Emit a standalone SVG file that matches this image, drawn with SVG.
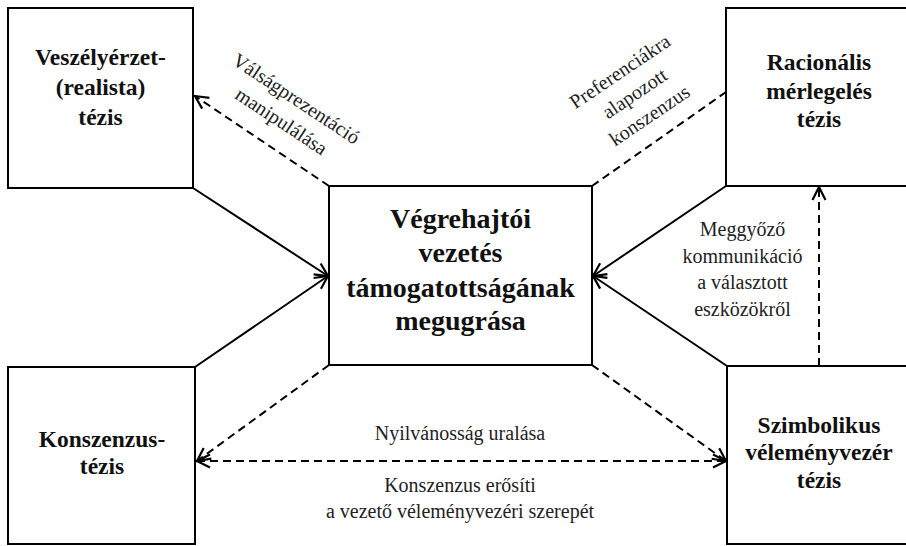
<svg xmlns="http://www.w3.org/2000/svg" width="906" height="546" viewBox="0 0 906 546">
<style>
.box{fill:#fff;stroke:#000;stroke-width:2}
.n{font-family:"Liberation Serif",serif;font-weight:bold;font-size:23.5px;text-anchor:middle;fill:#111}
.c{font-family:"Liberation Serif",serif;font-weight:bold;font-size:28px;text-anchor:middle;fill:#111}
.l{font-family:"Liberation Serif",serif;font-size:20px;text-anchor:middle;fill:#222}
.s{fill:none;stroke:#000;stroke-width:2}
.d{fill:none;stroke:#000;stroke-width:2;stroke-dasharray:8 5}
</style>
<defs>
<marker id="ah" markerUnits="userSpaceOnUse" markerWidth="20" markerHeight="20" viewBox="-16 -10 20 20" refX="0" refY="0" orient="auto-start-reverse">
<path d="M-13,-6.5 L0,0 L-13,6.5" fill="none" stroke="#000" stroke-width="2.2" stroke-dasharray="none"/>
</marker>
</defs>
<rect width="906" height="546" fill="#fff"/>
<g id="connectors">
<line class="s" x1="193" y1="188" x2="328" y2="276" marker-end="url(#ah)"/>
<line class="s" x1="195" y1="367" x2="328" y2="276" marker-end="url(#ah)"/>
<line class="s" x1="726" y1="186" x2="593" y2="276" marker-end="url(#ah)"/>
<line class="s" x1="727" y1="366" x2="593" y2="276" marker-end="url(#ah)"/>
<line class="d" x1="329" y1="186" x2="195" y2="96" marker-end="url(#ah)"/>
<line class="d" x1="592" y1="186" x2="726" y2="92"/>
<line class="d" x1="329" y1="365" x2="197" y2="461" marker-end="url(#ah)"/>
<line class="d" x1="592" y1="365" x2="726" y2="461" marker-end="url(#ah)"/>
<line class="d" x1="197" y1="461" x2="726" y2="461" marker-start="url(#ah)" marker-end="url(#ah)"/>
<line class="d" x1="819" y1="366" x2="819" y2="187" marker-end="url(#ah)"/>
<g transform="translate(288.5,110.5) rotate(33.5)">
<text class="l" x="0" y="-7.5">Válságprezentáció</text>
<text class="l" x="0" y="19.5">manipulálása</text>
</g>
<g transform="translate(635,94) rotate(-34)">
<text class="l" x="0" y="-20.5">Preferenciákra</text>
<text class="l" x="0" y="6">alapozott</text>
<text class="l" x="0" y="32.5">konszenzus</text>
</g>
<text class="l" x="742.5" y="236">Meggyőző</text>
<text class="l" x="742.5" y="263">kommunikáció</text>
<text class="l" x="742.5" y="289">a választott</text>
<text class="l" x="742.5" y="316">eszközökről</text>
<text class="l" x="460" y="440">Nyilvánosság uralása</text>
<text class="l" x="460" y="492">Konszenzus erősíti</text>
<text class="l" x="460" y="518">a vezető véleményvezéri szerepét</text>
</g>
<g id="veszely">
<rect class="box" x="8" y="8" width="185" height="180"/>
<text class="n" x="100.5" y="65">Veszélyérzet-</text>
<text class="n" x="100.5" y="95">(realista)</text>
<text class="n" x="100.5" y="125">tézis</text>
</g>
<g id="racionalis">
<rect class="box" x="726" y="8" width="190" height="178"/>
<text class="n" x="819" y="70">Racionális</text>
<text class="n" x="819" y="99">mérlegelés</text>
<text class="n" x="819" y="127">tézis</text>
</g>
<g id="kozep">
<rect class="box" x="329" y="186" width="263" height="179"/>
<text class="c" x="460.5" y="228">Végrehajtói</text>
<text class="c" x="460.5" y="262">vezetés</text>
<text class="c" x="460.5" y="297">támogatottságának</text>
<text class="c" x="460.5" y="330">megugrása</text>
</g>
<g id="konszenzus">
<rect class="box" x="8" y="367" width="187" height="177"/>
<text class="n" x="102" y="447">Konszenzus-</text>
<text class="n" x="102" y="474">tézis</text>
</g>
<g id="szimbolikus">
<rect class="box" x="727" y="366" width="190" height="178"/>
<text class="n" x="819" y="433">Szimbolikus</text>
<text class="n" x="819" y="460">véleményvezér</text>
<text class="n" x="819" y="488">tézis</text>
</g>
</svg>
